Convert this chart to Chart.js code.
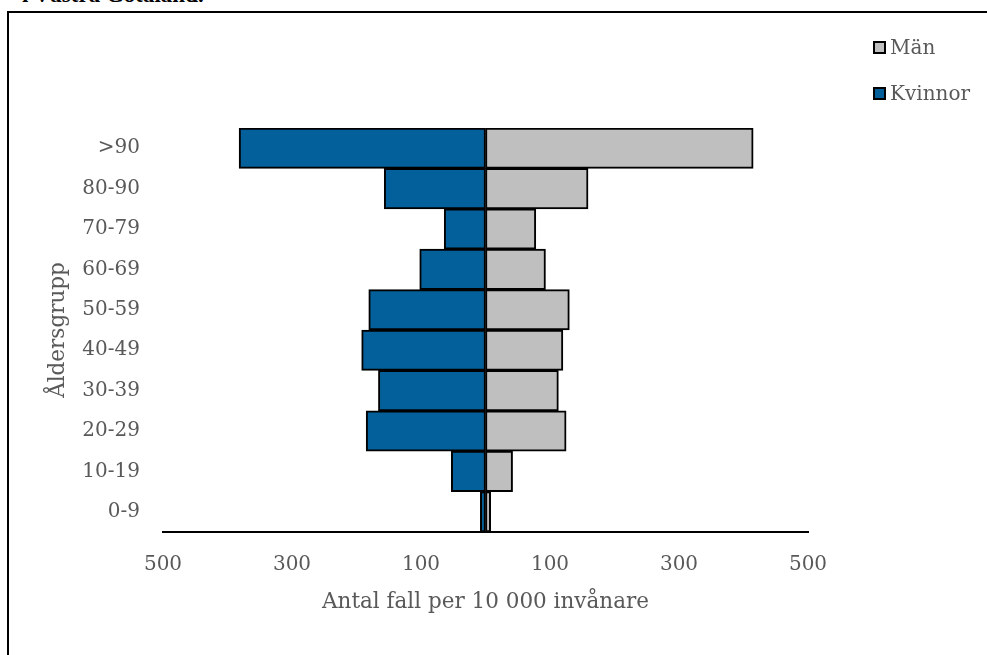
<!DOCTYPE html>
<html lang="sv">
<head>
<meta charset="utf-8">
<title>Åldersgrupp – antal fall per 10 000 invånare</title>
<script src="https://cdn.jsdelivr.net/npm/chart.js@4/dist/chart.umd.min.js"></script>
<style>
  html, body { margin: 0; padding: 0; background: #fff; overflow: hidden; }
  body { width: 987px; height: 655px; position: relative; }
  .heading {
    position: absolute; left: 22px; top: -16px; margin: 0;
    font: bold 23px/22px "Liberation Serif", serif; color: #000; white-space: nowrap;
  }
  .frame {
    position: absolute; left: 7px; top: 11px; width: 1000px; height: 700px;
    border: 2px solid #000;
  }
  .chart-wrap { position: absolute; left: 0; top: 0; width: 978px; height: 642px; }
  .legend { position: absolute; left: 873px; top: 0; font: 20px "DejaVu Serif", serif; color: #595959; }
  .legend-item { position: absolute; left: 0; white-space: nowrap; display: flex; align-items: center; height: 24px; }
  .legend-item i { display: inline-block; width: 9px; height: 9px; border: 2px solid #000; margin-right: 4px; }
</style>
</head>
<body>
<p class="heading">i Västra Götaland.</p>
<div class="frame">
  <div class="chart-wrap"><canvas id="pyramid"></canvas></div>
</div>
<div class="legend" id="legend"></div>
<script>
document.addEventListener('DOMContentLoaded', function () {
    // Age groups, bottom to top
    const categories = ['0-9', '10-19', '20-29', '30-39', '40-49', '50-59', '60-69', '70-79', '80-90', '>90'];
    // Cases per 10 000 inhabitants
    const man = [8, 42, 125, 113, 120, 130, 93, 78, 159, 415];
    const kvinnor = [8, 53, 185, 166, 192, 181, 102, 64, 157, 382];
    const xTicks = [-500, -300, -100, 100, 300, 500];

    const textColor = '#595959';
    const font = { family: '"DejaVu Serif", serif', size: 20 };
    const titleFont = { family: '"DejaVu Serif", serif', size: 21.5 };

    const datasets = [
        { label: 'Män', backgroundColor: '#BFBFBF', data: man },
        { label: 'Kvinnor', backgroundColor: '#03609A', data: kvinnor.map(v => -v) }
    ].map(d => Object.assign(d, {
        borderColor: '#000',
        borderWidth: 2,
        borderSkipped: false,
        barPercentage: 1,
        categoryPercentage: 1
    }));

    const ctx = document.getElementById('pyramid').getContext('2d');
    const chart = new Chart(ctx, {
        type: 'bar',
        data: { labels: categories, datasets: datasets },
        options: {
            indexAxis: 'y',
            responsive: true,
            maintainAspectRatio: false,
            animation: false,
            layout: { padding: { left: 23, top: 115, right: 179, bottom: 23 } },
            plugins: {
                legend: { display: false },
                tooltip: { enabled: false }
            },
            scales: {
                x: {
                    stacked: true,
                    min: xTicks[0],
                    max: xTicks[xTicks.length - 1],
                    afterBuildTicks: scale => { scale.ticks = xTicks.map(v => ({ value: v })); },
                    afterFit: scale => { scale.height = 100; },
                    grid: { display: false },
                    border: { display: true, color: '#000', width: 2 },
                    ticks: {
                        color: textColor, font: font, padding: 13,
                        callback: v => Math.abs(v)
                    },
                    title: {
                        display: true, text: 'Antal fall per 10 000 invånare',
                        color: textColor, font: titleFont, padding: { top: 0, bottom: 17 }
                    }
                },
                y: {
                    stacked: true,
                    reverse: true,
                    afterFit: scale => { scale.width = 131; },
                    grid: { display: false },
                    border: { display: false },
                    ticks: { color: textColor, font: font, padding: 15 },
                    title: {
                        display: true, text: 'Åldersgrupp',
                        color: textColor, font: titleFont, padding: { top: 14, bottom: 0 }
                    }
                }
            }
        }
    });

    // Legend on the right, same order as the datasets
    const legend = document.getElementById('legend');
    const legendY = [47, 93];
    chart.data.datasets.forEach((ds, i) => {
        const item = document.createElement('div');
        item.className = 'legend-item';
        item.style.top = (legendY[i] - 12) + 'px';
        const box = document.createElement('i');
        box.style.background = ds.backgroundColor;
        item.appendChild(box);
        item.appendChild(document.createTextNode(ds.label));
        legend.appendChild(item);
    });
});
</script>
</body>
</html>
